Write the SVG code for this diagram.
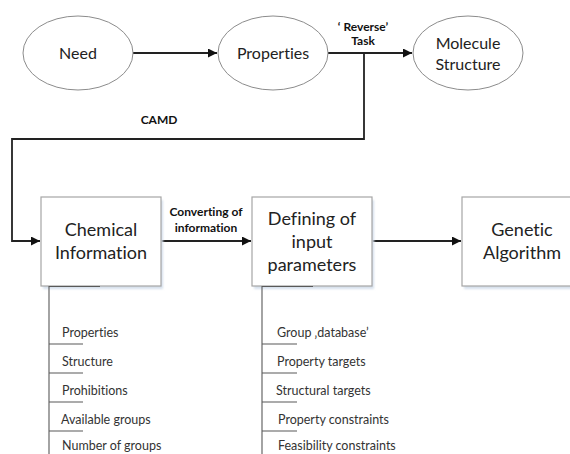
<svg xmlns="http://www.w3.org/2000/svg" width="570" height="454" viewBox="0 0 570 454">
<defs>
<marker id="arr" markerWidth="10" markerHeight="10" refX="9" refY="4.5" orient="auto" markerUnits="userSpaceOnUse">
<path d="M0,0 L9,4.5 L0,9 Z" fill="#111"/>
</marker>
<filter id="sh" x="-10%" y="-10%" width="130%" height="130%">
<feGaussianBlur stdDeviation="1.2"/>
</filter>
</defs>
<style>
text{font-variant-ligatures:none;font-feature-settings:"liga" 0,"dlig" 0}
.ell{fill:#fff;stroke:#8c8c8c;stroke-width:1}
.box{fill:#fff;stroke:#a6a6a6;stroke-width:1.2}
.shadow{fill:#d6e0ec;filter:url(#sh)}
.lbl{font-family:Lato,"Liberation Sans",sans-serif;fill:#222;text-anchor:middle}
.el{font-size:16px}
.bx{font-size:18px}
.bold{font-family:Lato,"Liberation Sans",sans-serif;font-weight:bold;font-size:12px;fill:#111;text-anchor:middle}
.item{font-family:Lato,"Liberation Sans",sans-serif;font-size:12.5px;fill:#333}
.conn{fill:none;stroke:#222;stroke-width:1.8}
.tree{fill:none;stroke:#595959;stroke-width:1.1}
</style>
<rect width="570" height="454" fill="#fff"/>

<g id="connectors">
<line class="conn" x1="133" y1="53" x2="217" y2="53" marker-end="url(#arr)"/>
<line class="conn" x1="328" y1="53" x2="412" y2="53" marker-end="url(#arr)"/>
<polyline class="conn" points="364,53 364,139 12,139 12,241 40,241" marker-end="url(#arr)"/>
<line class="conn" x1="161" y1="241" x2="251" y2="241" marker-end="url(#arr)"/>
<line class="conn" x1="372" y1="241" x2="461" y2="241" marker-end="url(#arr)"/>
<text class="bold" x="363" y="31">‘ Reverse’</text>
<text class="bold" x="363" y="45">Task</text>
<text class="bold" x="159" y="124">CAMD</text>
<text class="bold" x="206" y="216">Converting of</text>
<text class="bold" x="206" y="232">information</text>
</g>

<g id="need">
<ellipse class="ell" cx="78" cy="53" rx="55" ry="37"/>
<text class="lbl el" x="78" y="59">Need</text>
</g>
<g id="properties">
<ellipse class="ell" cx="273" cy="53" rx="55" ry="37"/>
<text class="lbl el" x="273" y="59">Properties</text>
</g>
<g id="molecule">
<ellipse class="ell" cx="468" cy="53" rx="55" ry="37"/>
<text class="lbl el" x="468" y="49">Molecule</text>
<text class="lbl el" x="468" y="70">Structure</text>
</g>

<g id="chemical">
<rect class="shadow" x="43" y="200" width="120" height="89"/>
<rect class="box" x="41" y="197" width="120" height="89"/>
<text class="lbl bx" x="101" y="236">Chemical</text>
<text class="lbl bx" x="101" y="259">Information</text>
</g>
<g id="defining">
<rect class="shadow" x="254" y="200" width="120" height="89"/>
<rect class="box" x="252" y="197" width="120" height="89"/>
<text class="lbl bx" x="312" y="225">Defining of</text>
<text class="lbl bx" x="312" y="248">input</text>
<text class="lbl bx" x="312" y="271">parameters</text>
</g>
<g id="genetic">
<rect class="shadow" x="464" y="200" width="120" height="89"/>
<rect class="box" x="462" y="197" width="120" height="89"/>
<text class="lbl bx" x="522" y="236">Genetic</text>
<text class="lbl bx" x="522" y="259">Algorithm</text>
</g>

<g id="chemical-list">
<polyline class="tree" points="100,286.5 49,286.5 49,454"/>
<line class="tree" x1="49" y1="344" x2="83" y2="344"/>
<line class="tree" x1="49" y1="373" x2="83" y2="373"/>
<line class="tree" x1="49" y1="402" x2="83" y2="402"/>
<line class="tree" x1="49" y1="431" x2="83" y2="431"/>
<text class="item" x="62" y="337">Properties</text>
<text class="item" x="62" y="366">Structure</text>
<text class="item" x="62" y="395">Prohibitions</text>
<text class="item" x="61" y="424">Available groups</text>
<text class="item" x="62" y="450">Number of groups</text>
</g>
<g id="defining-list">
<polyline class="tree" points="313,286.5 262,286.5 262,454"/>
<line class="tree" x1="262" y1="344" x2="297" y2="344"/>
<line class="tree" x1="262" y1="373" x2="297" y2="373"/>
<line class="tree" x1="262" y1="402" x2="297" y2="402"/>
<line class="tree" x1="262" y1="431" x2="297" y2="431"/>
<text class="item" x="277" y="337">Group ‚database’</text>
<text class="item" x="277" y="366">Property targets</text>
<text class="item" x="276" y="395">Structural targets</text>
<text class="item" x="278" y="424">Property constraints</text>
<text class="item" x="278" y="450">Feasibility constraints</text>
</g>
</svg>
